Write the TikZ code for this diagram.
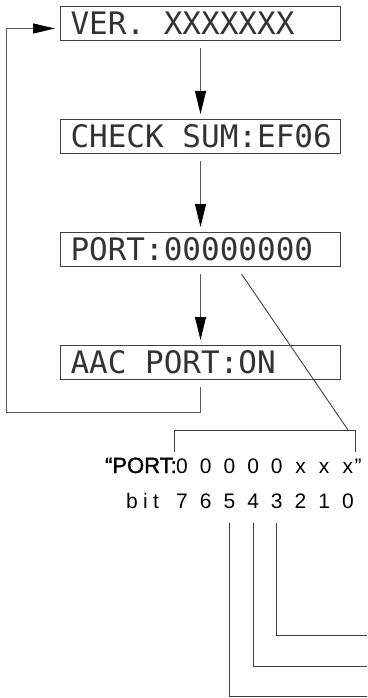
\documentclass[tikz,border=0pt]{standalone}
\usepackage{fontspec}
\setmainfont{Liberation Sans}
\newfontfamily\lcdfont{DejaVu Sans Mono}
\newcommand\lcdgap{\hspace*{0.602em}}
\usetikzlibrary{positioning,arrows.meta}

\begin{document}
\begin{tikzpicture}[
	x=1pt, y=-1pt,
	>={Triangle[length=23pt,width=11pt,color=black]},
	node distance=78pt,
	lcd/.style={
		rectangle,
		draw=black!75,
		line width=1pt,
		text width=260pt,
		align=left,
		inner xsep=10pt,
		inner ysep=0pt,
		minimum height=34pt,
		text=black!80,
		font=\lcdfont\fontsize{31}{31}\selectfont
	},
	flow/.style={->, draw=black!65, line width=1pt, shorten <=7pt, shorten >=5pt},
	wire/.style={draw=black!75, line width=0.9pt},
	bitnum/.style={anchor=base, inner sep=0pt, font=\fontsize{21}{21}\selectfont}
	]
	
	\useasboundingbox (0,0) rectangle (367,698);
	
	% display screens
	\node[lcd, anchor=north west] (ver) at (60,6) {VER.\lcdgap XXXXXXX};
	\node[lcd] (chk) [below=of ver] {CHECK\lcdgap SUM:EF06};
	\node[lcd] (port) [below=of chk] {PORT:00000000};
	\node[lcd] (aac) [below=of port] {AAC\lcdgap PORT:ON};
	
	\draw[flow] (ver) -- (chk);
	\draw[flow] (chk) -- (port);
	\draw[flow] (port) -- (aac);
	
	% back to the first screen
	\coordinate (lp) at (6,412);
	\draw[flow, >={Triangle[length=22pt,width=10pt,color=black]}] (aac.south) |- (lp) |- ([yshift=-5pt]ver.west);
	
	% port bits
	\node[bitnum, anchor=base east, font=\addfontfeature{FakeBold=1.5}\fontsize{22}{22}\selectfont] (plabel) at (177,473) {“PORT:};
	\foreach \v [count=\i from 0] in {0,0,0,0,0,x,x,x} {
		\pgfmathtruncatemacro\b{7-\i}
		\node[bitnum] (v\b) at (182+23.7*\i,473) {\v};
	}
	\node[bitnum, anchor=base west] (qend) at ([xshift=1pt]v0.base east) {”};
	
	\node[bitnum, anchor=base west, font=\addfontfeature{LetterSpace=25}\fontsize{21}{21}\selectfont] (bitlbl) at (126,508) {bit};
	\foreach \i in {0,...,7} {
		\pgfmathtruncatemacro\b{7-\i}
		\node[bitnum] (b\b) at (182+23.7*\i,508) {\b};
	}
	
	% bracket
	\coordinate (brL) at (174,430);
	\coordinate (brR) at (355,430);
	\coordinate (brtop) at (348,430);
	\draw[wire] ([shift={(41pt,-7pt)}]port.south) -- (brtop);
	\draw[wire] (brL) ++(0,22) -- (brL) -- (brR) -- ++(0,22);
	
	% bit lines
	\foreach \b/\y in {3/635,4/666,5/696} {
		\coordinate (e\b) at (367,\y);
		\draw[wire] ([yshift=-15pt]b\b.base) |- (e\b);
	}
	
\end{tikzpicture}
\end{document}
